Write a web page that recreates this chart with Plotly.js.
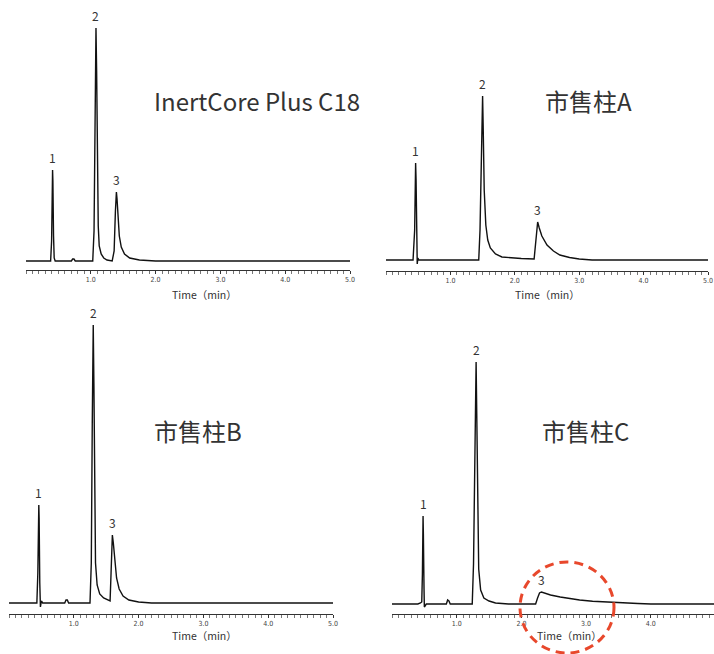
<!DOCTYPE html>
<html>
<head>
<meta charset="utf-8">
<script src="https://cdn.plot.ly/plotly-3.0.1.min.js"></script>
<style>html,body{margin:0;padding:0;background:#fff;}#chart{width:714px;height:654px;}</style>
</head>
<body>
<div id="chart"></div>
<script>
// ---- data (time in min, signal in arbitrary units) ----
const panelTitles = ["InertCore Plus C18", "市售柱A", "市售柱B", "市售柱C"];
const tickValues = [1, 2, 3, 4, 5];
const tickLabels = ["1.0", "2.0", "3.0", "4.0", "5.0"];
const axisTitle = "Time（min）";
const peakNames = ["1", "2", "3"];

const timeInert = [0, 0.2, 0.38, 0.395, 0.405, 0.41, 0.415, 0.425, 0.435, 0.45, 0.70, 0.72, 0.74, 0.76, 1.03, 1.05, 1.065, 1.08, 1.09, 1.10, 1.115, 1.13, 1.16, 1.20, 1.25, 1.33, 1.36, 1.38, 1.395, 1.405, 1.42, 1.44, 1.47, 1.52, 1.6, 1.75, 2.0, 5.0];
const signalInert = [0, 0, 0, 20, 80, 91, 80, 25, 3, 0, 0, 2, 2, 0, 0, 30, 150, 233, 190, 90, 35, 15, 7, 3, 1, 0, 10, 50, 69, 62, 40, 25, 14, 7, 3, 1, 0, 0];

const timeA = [0, 0.42, 0.445, 0.455, 0.46, 0.467, 0.475, 0.485, 0.495, 0.51, 1.0, 1.44, 1.46, 1.48, 1.50, 1.51, 1.525, 1.55, 1.58, 1.62, 1.7, 1.8, 1.95, 2.1, 2.3, 2.32, 2.345, 2.355, 2.38, 2.42, 2.5, 2.6, 2.7, 2.85, 3.0, 3.2, 5.0];
const signalA = [0, 0, 30, 90, 97, 80, 20, -4, 2, 0, 0, 0, 30, 120, 164, 130, 70, 35, 20, 12, 6, 3, 2, 1.5, 1, 15, 36, 38, 32, 24, 15, 9, 5, 2.5, 1, 0, 0];

const timeB = [0, 0.43, 0.445, 0.455, 0.46, 0.465, 0.475, 0.485, 0.50, 0.52, 0.86, 0.88, 0.90, 0.92, 1.25, 1.27, 1.285, 1.30, 1.31, 1.32, 1.335, 1.36, 1.40, 1.46, 1.53, 1.56, 1.575, 1.595, 1.61, 1.63, 1.66, 1.70, 1.76, 1.85, 2.0, 2.2, 5.0];
const signalB = [0, 0, 30, 90, 98, 85, 20, -4, 2, 0, 0, 3, 3, 0, 0, 40, 180, 278, 220, 110, 40, 18, 9, 5, 3, 2, 30, 68, 60, 42, 25, 14, 7, 3, 1, 0, 0];

const timeC = [0, 0.40, 0.44, 0.46, 0.47, 0.475, 0.48, 0.485, 0.495, 0.50, 0.51, 0.53, 0.84, 0.86, 0.88, 0.90, 1.24, 1.26, 1.28, 1.30, 1.31, 1.325, 1.34, 1.37, 1.42, 1.5, 1.6, 1.8, 2.22, 2.25, 2.28, 2.31, 2.36, 2.45, 2.6, 2.75, 2.9, 3.1, 3.3, 3.5, 3.8, 4.0, 5.0];
const signalC = [0, 0, 1, 2, 30, 80, 88, 70, 15, -3, -2, 0, 0, 4, 3, 0, 0, 40, 160, 242, 190, 90, 35, 14, 6, 3, 1, 0, 0, 6, 11, 12, 11, 9, 7, 5.5, 4, 2.8, 2, 1.5, 0.5, 0, 0];

// peak apex times (for labels)
const peakTimesInert = [0.41, 1.08, 1.395];
const peakTimesA = [0.46, 1.50, 2.355];
const peakTimesB = [0.46, 1.30, 1.595];
const peakTimesC = [0.48, 1.30, 2.31];

// ---- layout helpers ----
const W = 714, H = 654;
const px = v => v / W;
const py = v => 1 - v / H;

const series = [
  {t: timeInert, s: signalInert, pk: peakTimesInert},
  {t: timeA, s: signalA, pk: peakTimesA},
  {t: timeB, s: signalB, pk: peakTimesB},
  {t: timeC, s: signalC, pk: peakTimesC}
];
// pixel geometry of each panel: left, right of x axis (0..5 min), axis line y, baseline y, top y
const geo = [
  {l: 26, r: 350, axisY: 270, base: 261, top: 10, tx: 257, ty: 100, ax: 205, ay: 294},
  {l: 386, r: 708, axisY: 271, base: 260, top: 10, tx: 588, ty: 100, ax: 547, ay: 294},
  {l: 9, r: 333, axisY: 614, base: 603, top: 305, tx: 198, ty: 430, ax: 204, ay: 635},
  {l: 392, r: 715.5, axisY: 614, base: 604, top: 305, tx: 585, ty: 430, ax: 569, ay: 635}
];

const traces = [];
const layout = {
  width: W, height: H,
  margin: {l: 0, r: 0, t: 0, b: 0},
  paper_bgcolor: '#fff', plot_bgcolor: 'rgba(0,0,0,0)',
  showlegend: false,
  annotations: [],
  shapes: []
};

const labelFont = {family: 'Noto Sans CJK SC, Noto Sans, sans-serif', size: 12, color: '#333'};

series.forEach((d, i) => {
  const g = geo[i];
  const n = i === 0 ? '' : String(i + 1);
  const xa = 'xaxis' + n, ya = 'yaxis' + n;
  traces.push({
    x: d.t, y: d.s, type: 'scatter', mode: 'lines',
    xaxis: 'x' + n, yaxis: 'y' + n,
    line: {color: '#111', width: 1.4, shape: 'linear'},
    hoverinfo: 'skip'
  });
  const xEnd = Math.min(g.r, W);
  const xMax = 5 * (xEnd - g.l) / (g.r - g.l);
  layout[xa] = {
    domain: [px(g.l), px(xEnd)], range: [0, xMax], anchor: 'y' + n,
    showline: true, linecolor: '#333', linewidth: 1,
    ticks: 'outside', ticklen: 3, tickwidth: 1, tickcolor: '#333',
    tickmode: 'array', tickvals: tickValues, ticktext: tickLabels,
    tickfont: {family: 'Liberation Sans Narrow, DejaVu Sans Condensed, sans-serif', size: 7, color: '#444'},
    minor: {tickmode: 'linear', tick0: 0, dtick: 0.1, ticks: 'outside', ticklen: 2.5, tickwidth: 0.8, tickcolor: '#555', showgrid: false},
    showgrid: false, zeroline: false, fixedrange: true
  };
  const hTot = g.axisY - g.top;
  const off = g.axisY - g.base;
  layout[ya] = {
    domain: [py(g.axisY), py(g.top)], range: [-off, hTot - off], anchor: 'x' + n,
    visible: false, showgrid: false, zeroline: false, fixedrange: true
  };
  // panel title
  layout.annotations.push({
    xref: 'paper', yref: 'paper', x: px(g.tx), y: py(g.ty), text: panelTitles[i],
    showarrow: false, xanchor: 'center', yanchor: 'middle',
    font: {family: 'Noto Sans CJK SC, Noto Sans, sans-serif', size: 24, color: '#333'}
  });
  // axis title
  layout.annotations.push({
    xref: 'paper', yref: 'paper', x: px(g.ax), y: py(g.ay), text: axisTitle,
    showarrow: false, xanchor: 'center', yanchor: 'middle',
    font: {family: 'Noto Sans CJK SC, Noto Sans, sans-serif', size: 10.5, color: '#333'}
  });
  // peak labels
  d.pk.forEach((pt, k) => {
    let idx = 0, best = 1e9;
    d.t.forEach((tv, j) => { if (Math.abs(tv - pt) < best) { best = Math.abs(tv - pt); idx = j; } });
    layout.annotations.push({
      xref: 'x' + n, yref: 'y' + n, x: pt, y: d.s[idx], text: peakNames[k],
      showarrow: false, xanchor: 'center', yanchor: 'bottom', yshift: 2,
      font: labelFont
    });
  });
});

// red dashed circle highlighting peak 3 of column C
layout.shapes.push({
  type: 'circle', xref: 'paper', yref: 'paper',
  x0: px(520), x1: px(614), y0: py(653), y1: py(562),
  line: {color: '#e8482c', width: 3, dash: '9px,6px'},
  layer: 'above'
});

Plotly.newPlot('chart', traces, layout, {displayModeBar: false, staticPlot: true});
</script>
</body>
</html>
